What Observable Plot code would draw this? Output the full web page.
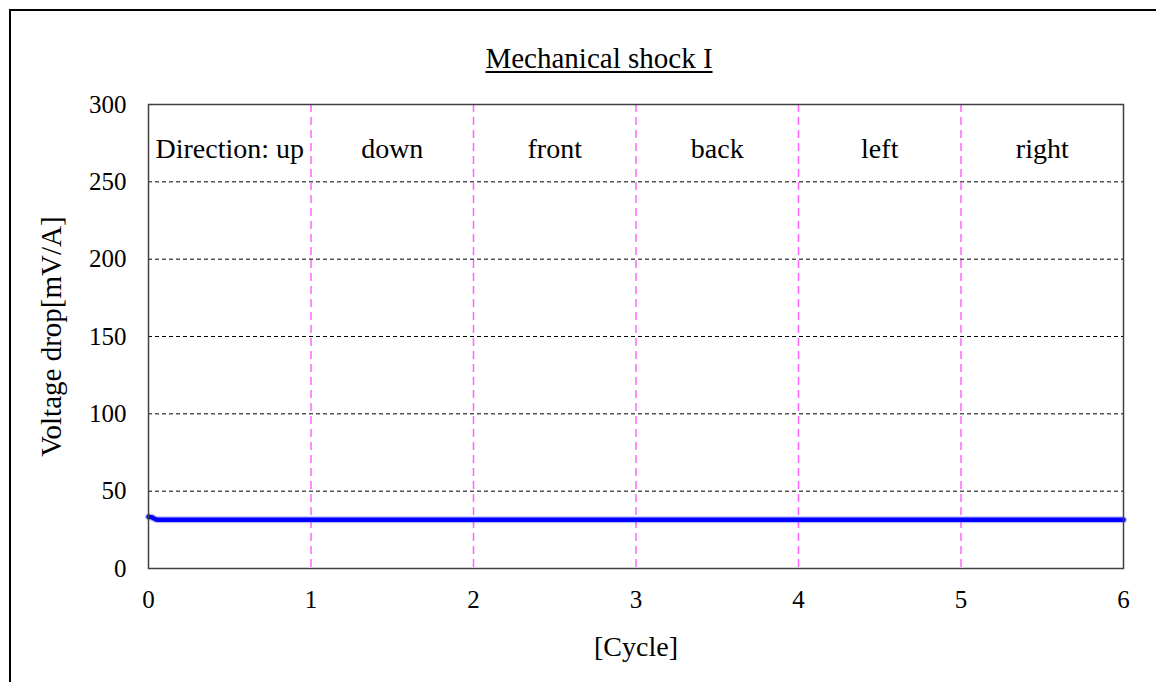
<!DOCTYPE html>
<html>
<head>
<meta charset="utf-8">
<script src="https://cdn.jsdelivr.net/npm/d3@7"></script>
<script src="https://cdn.jsdelivr.net/npm/@observablehq/plot@0.6"></script>
<style>
  html, body { margin: 0; padding: 0; background: #fff; }
  body { width: 1156px; height: 682px; position: relative; overflow: hidden; font-family: "Liberation Serif", "Times New Roman", serif; }
  #box { position: absolute; left: 9px; top: 9px; width: 1400px; height: 900px; border-left: 2px solid #000; border-top: 2px solid #000; box-sizing: border-box; }
  #title { position: absolute; left: 599px; top: 44px; transform: translateX(-50%); font-size: 29px; line-height: 29px; text-decoration: underline; text-decoration-thickness: 2px; text-underline-offset: 3px; color: #000; white-space: nowrap; }
  #chart { position: absolute; left: 0; top: 0; }
</style>
</head>
<body>
<div id="box"></div>
<div id="chart"></div>
<div id="title">Mechanical shock I</div>
<script>
// Shock test: voltage drop measured over six cycles, one per shock direction
const cycles   = [0, 0.01, 0.02, 0.03, 0.05, 0.5, 1, 1.5, 2, 2.5, 3, 3.5, 4, 4.5, 5, 5.5, 6];
const voltage  = [33.5, 33.3, 33.2, 32.5, 31.6, 31.5, 31.5, 31.5, 31.5, 31.5, 31.5, 31.5, 31.5, 31.5, 31.5, 31.5, 31.5];
const directions = ["Direction: up", "down", "front", "back", "left", "right"];
const xTicks = [0, 1, 2, 3, 4, 5, 6];
const yTicks = [0, 50, 100, 150, 200, 250, 300];
const gridY = [50, 100, 150, 200, 250];
const boundaries = [1, 2, 3, 4, 5];

const series = cycles.map((c, i) => ({cycle: c, drop: voltage[i]}));
const font = "Liberation Serif, Times New Roman, serif";

const chart = Plot.plot({
  width: 1156,
  height: 682,
  marginLeft: 148,
  marginRight: 33,
  marginTop: 104,
  marginBottom: 114,
  style: {fontFamily: font, fontSize: "25px", color: "#000", background: "transparent"},
  x: {domain: [0, 6]},
  y: {domain: [0, 300]},
  marks: [
    Plot.ruleY(gridY, {stroke: "#000", strokeWidth: 1, strokeDasharray: "4,3"}),
    Plot.ruleX(boundaries, {stroke: "#ff66ff", strokeWidth: 1.5, strokeDasharray: "8,5"}),
    Plot.line(series, {x: "cycle", y: "drop", stroke: "#0000ff", strokeWidth: 7, strokeOpacity: 0.25}),
    Plot.line(series, {x: "cycle", y: "drop", stroke: "#0000ff", strokeWidth: 4.5}),
    Plot.text(directions, {x: (d, i) => i + 0.5, y: 271, text: d => d, fontSize: 28, fill: "#000"}),
    Plot.frame({stroke: "#404040", strokeWidth: 1.5}),
    Plot.axisX(xTicks, {tickSize: 0, tickPadding: 22, fontSize: 25, tickFormat: d => String(d), label: null}),
    Plot.axisY(yTicks, {tickSize: 0, tickPadding: 22, fontSize: 25, tickFormat: d => String(d), label: null}),
    Plot.text(["Voltage drop[mV/A]"], {frameAnchor: "left", textAnchor: "middle", dx: -97, rotate: -90, fontSize: 29, fill: "#000"}),
    Plot.text(["[Cycle]"], {frameAnchor: "bottom", dy: 87, fontSize: 28, fill: "#000"})
  ]
});
document.getElementById("chart").appendChild(chart);
</script>
</body>
</html>
